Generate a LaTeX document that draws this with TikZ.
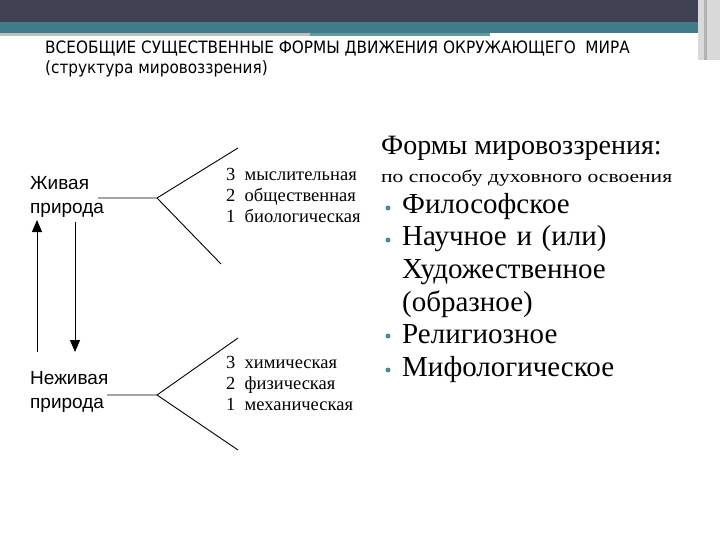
\documentclass[tikz,border=0pt]{standalone}
\usepackage{fontspec}
\setmainfont{Liberation Serif}
\newfontfamily\sansf{Liberation Sans}
\newfontfamily\titlef{DejaVu Sans Condensed}
\usetikzlibrary{arrows.meta}
\definecolor{barDark}{HTML}{3F4152}
\definecolor{barTeal}{HTML}{3E7D87}
\definecolor{bulletC}{HTML}{4A8A93}
\begin{document}
\begin{tikzpicture}[x=1pt,y=-1pt,
  line/.style={line width=0.9pt},
  arr/.style={line width=0.9pt,-{Triangle[length=12pt,width=10pt]}},
  nat/.style={font=\sansf\fontsize{19}{24}\selectfont,anchor=west,align=left,inner sep=0pt},
  lvl/.style={font=\fontsize{18.5}{21}\selectfont,anchor=north west,align=left,inner sep=0pt},
  item/.style={font=\fontsize{29}{32.6}\selectfont,anchor=north west,align=left,inner sep=0pt,text width=320pt},
  bul/.style={circle,fill=bulletC,inner sep=0pt,minimum size=5pt}]
\useasboundingbox (0,0) rectangle (720,540);
\fill[white] (0,0) rectangle (720,540);
\fill[barDark] (0,0) rectangle (720,22);
\fill[barTeal] (0,22) rectangle (720,33);
\fill[black!25] (0,33) rectangle (310,36);
\fill[barTeal!80] (310,33) rectangle (490,36);
\fill[black!15] (698,0) rectangle (720,60);
\fill[black!30] (704,0) rectangle (707,60);
\node[font=\titlef\fontsize{17}{20}\selectfont,anchor=north west,align=left,inner sep=0pt] (title) at (45,41)
 {ВСЕОБЩИЕ СУЩЕСТВЕННЫЕ ФОРМЫ ДВИЖЕНИЯ ОКРУЖАЮЩЕГО~~МИРА\\(структура мировоззрения)};
% living
\node[nat] (liv) at (30,197) {Живая\\природа};
\node[nat] (nliv) at (30,392) {Неживая\\природа};
\coordinate (f1) at (157,198);
\coordinate (f1s) at (98,198);
\coordinate (f1a) at (238,148);
\coordinate (f1b) at (221,264);
\draw[line] (f1s) -- (f1) -- (f1a) (f1) -- (f1b);
\coordinate (f2) at (157,395);
\coordinate (f2s) at (107,395);
\coordinate (f2a) at (238,338);
\coordinate (f2b) at (238,450);
\draw[line] (f2s) -- (f2) -- (f2a) (f2) -- (f2b);
\coordinate (au1) at (37,352); \coordinate (au2) at (37,220);
\coordinate (ad1) at (75,222); \coordinate (ad2) at (75,352);
\draw[arr] (au1) -- (au2);
\draw[arr] (ad1) -- (ad2);
\node[lvl] (l1) at (226,168) {3\enspace мыслительная\\2\enspace общественная\\1\enspace биологическая};
\node[lvl] (l2) at (226,356) {3\enspace химическая\\2\enspace физическая\\1\enspace механическая};
% right
\node[font=\fontsize{28}{30}\selectfont,anchor=west,inner sep=0pt] (hdr) at (381,148) {Формы мировоззрения:};
\node[font=\fontsize{17.4}{20}\selectfont,anchor=west,inner sep=0pt] (sub) at (381,178) {\scalebox{1.24}[1]{по способу духовного освоения}};
\node[item] (i1) at (402,193) {Философское\\Научное и (или)\\Художественное\\(образное)\\Религиозное\\Мифологическое};
\foreach \y [count=\k] in {208,240,336,370} \node[bul] (b\k) at (388,\y) {};
\end{tikzpicture}
\end{document}
